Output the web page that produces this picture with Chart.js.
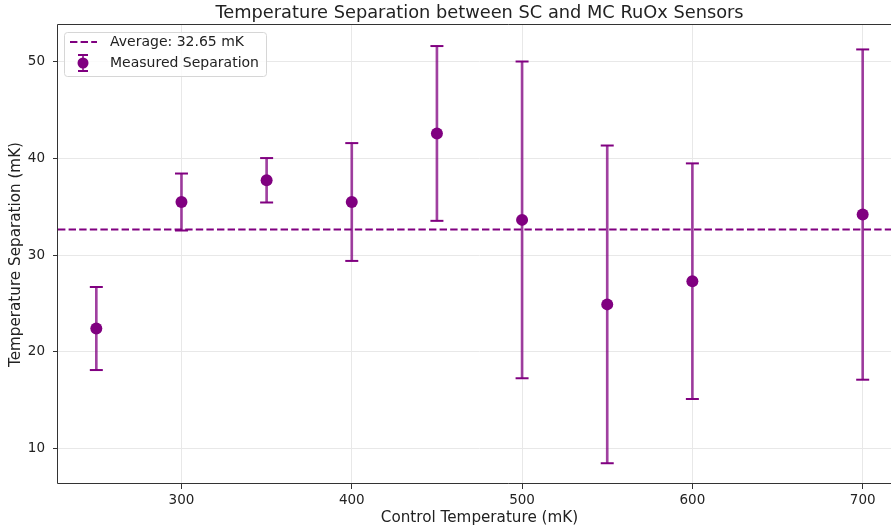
<!DOCTYPE html>
<html>
<head>
<meta charset="utf-8">
<script src="https://cdn.jsdelivr.net/npm/chart.js@4.4.1/dist/chart.umd.min.js"></script>
<style>
  html, body { margin: 0; padding: 0; background: #fff; overflow: hidden; }
  canvas { display: block; }
</style>
</head>
<body>
<canvas id="sepChart" width="960" height="531"></canvas>
<script>
// control temperatures (mK) and measured SC - MC separation (mK)
var temps = [250, 300, 350, 400, 450, 500, 550, 600, 700];
var separation = [22.4, 35.5, 37.75, 35.5, 42.6, 33.65, 24.9, 27.3, 34.2];
var sepError = [4.3, 2.95, 2.3, 6.1, 9.05, 16.4, 16.45, 12.2, 17.1];
var average = 32.65;
var xTicks = [300, 400, 500, 600, 700];
var yTicks = [10, 20, 30, 40, 50];
var xRange = [227.5, 722.5];
var yRange = [6.3, 53.83];

var purple = "#800080";
var barPurple = "rgba(128, 0, 128, 0.75)";
var font = "'DejaVu Sans', 'Liberation Sans', sans-serif";

var bars = temps.map(function (t, i) {
  return { x: t, y: [separation[i] - sepError[i], separation[i] + sepError[i]] };
});
var caps = [];
temps.forEach(function (t, i) {
  caps.push({ x: t, y: separation[i] - sepError[i] });
  caps.push({ x: t, y: separation[i] + sepError[i] });
});
var points = temps.map(function (t, i) {
  return { x: t, y: separation[i] };
});

// matplotlib style frame (left, top, bottom spines), title centred on the axes
var framePlugin = {
  id: "frame",
  afterLayout: function (chart) {
    if (chart.titleBlock) {
      chart.titleBlock.left = chart.chartArea.left;
      chart.titleBlock.right = chart.chartArea.right;
    }
  },
  afterDatasetsDraw: function (chart) {
    var a = chart.chartArea,
      ctx = chart.ctx;
    ctx.save();
    ctx.strokeStyle = "#333";
    ctx.lineWidth = 1;
    ctx.beginPath();
    ctx.moveTo(chart.width, a.top - 0.5);
    ctx.lineTo(a.left - 0.5, a.top - 0.5);
    ctx.lineTo(a.left - 0.5, a.bottom - 0.5);
    ctx.lineTo(chart.width, a.bottom - 0.5);
    ctx.stroke();
    ctx.restore();
  },
};

// legend box in the upper left corner of the axes
var legendPlugin = {
  id: "boxLegend",
  afterDraw: function (chart) {
    var ctx = chart.ctx;
    var x = 64.5, y = 32.5, w = 202, h = 44, r = 3;
    ctx.save();
    ctx.fillStyle = "rgba(255,255,255,0.8)";
    ctx.strokeStyle = "#d6d6d6";
    ctx.lineWidth = 1;
    ctx.beginPath();
    ctx.roundRect(x, y, w, h, r);
    ctx.fill();
    ctx.stroke();

    // dashed line sample
    ctx.strokeStyle = purple;
    ctx.lineWidth = 2;
    ctx.setLineDash([7.4, 3.2]);
    ctx.beginPath();
    ctx.moveTo(70, 42);
    ctx.lineTo(97, 42);
    ctx.stroke();
    ctx.setLineDash([]);

    // errorbar sample
    var cx = 83, cy = 63;
    ctx.strokeStyle = barPurple;
    ctx.beginPath();
    ctx.moveTo(cx, cy - 8);
    ctx.lineTo(cx, cy + 8);
    ctx.stroke();
    ctx.strokeStyle = purple;
    ctx.beginPath();
    ctx.moveTo(cx - 5, cy - 8);
    ctx.lineTo(cx + 5, cy - 8);
    ctx.moveTo(cx - 5, cy + 8);
    ctx.lineTo(cx + 5, cy + 8);
    ctx.stroke();
    ctx.fillStyle = purple;
    ctx.beginPath();
    ctx.arc(cx, cy, 5.5, 0, Math.PI * 2);
    ctx.fill();

    ctx.fillStyle = "#222";
    ctx.font = "14px " + font;
    ctx.textBaseline = "middle";
    ctx.textAlign = "left";
    ctx.fillText("Average: " + average.toFixed(2) + " mK", 110, 42);
    ctx.fillText("Measured Separation", 110, 63);
    ctx.restore();
  },
};

var ctx = document.getElementById("sepChart");
var chart = new Chart(ctx, {
  type: "scatter",
  data: {
    datasets: [
      {
        type: "scatter",
        label: "Measured Separation",
        data: points,
        backgroundColor: purple,
        borderColor: purple,
        borderWidth: 0,
        pointRadius: 6,
        order: 0,
      },
      {
        type: "scatter",
        label: "caps",
        data: caps,
        pointStyle: "line",
        pointRadius: 6.5,
        borderColor: purple,
        borderWidth: 2,
        order: 1,
      },
      {
        type: "bar",
        label: "errors",
        data: bars,
        backgroundColor: barPurple,
        borderWidth: 0,
        barThickness: 2,
        order: 2,
      },
      {
        type: "scatter",
        label: "Average",
        data: [
          { x: xRange[0], y: average },
          { x: xRange[1], y: average },
        ],
        showLine: true,
        borderColor: purple,
        borderWidth: 2,
        borderDash: [7.4, 3.2],
        pointRadius: 0,
        order: 3,
      },
    ],
  },
  options: {
    responsive: false,
    animation: false,
    events: [],
    layout: { padding: { left: 0, right: 59, top: 0, bottom: 0 } },
    plugins: {
      legend: { display: false },
      tooltip: { enabled: false },
      title: {
        display: true,
        text: "Temperature Separation between SC and MC RuOx Sensors",
        color: "#222",
        font: { family: font, size: 17.8, weight: "normal" },
        padding: { top: 2.6, bottom: 1.04 },
      },
    },
    scales: {
      x: {
        type: "linear",
        min: xRange[0],
        max: xRange[1],
        offset: false,
        afterBuildTicks: function (scale) {
          scale.ticks = xTicks.map(function (v) { return { value: v }; });
        },
        afterFit: function (scale) {
          scale.height = 47;
        },
        grid: {
          offset: false,
          color: "#e8e8e8",
          lineWidth: 1,
          tickColor: "#333",
          tickLength: 5,
        },
        border: { display: false },
        ticks: {
          color: "#222",
          padding: 3,
          maxRotation: 0,
          font: { family: font, size: 13.5 },
        },
        title: {
          display: true,
          text: "Control Temperature (mK)",
          color: "#222",
          font: { family: font, size: 15.2 },
          padding: { top: 0, bottom: 4 },
        },
      },
      y: {
        type: "linear",
        min: yRange[0],
        max: yRange[1],
        afterBuildTicks: function (scale) {
          scale.ticks = yTicks.map(function (v) { return { value: v }; });
        },
        afterFit: function (scale) {
          scale.width = 58;
        },
        grid: {
          color: "#e8e8e8",
          lineWidth: 1,
          tickColor: "#333",
          tickLength: 5,
        },
        border: { display: false },
        ticks: {
          color: "#222",
          padding: 8,
          font: { family: font, size: 13.5 },
        },
        title: {
          display: true,
          text: "Temperature Separation (mK)",
          color: "#222",
          font: { family: font, size: 15.2 },
          padding: { top: 7, bottom: 0 },
        },
      },
    },
  },
  plugins: [framePlugin, legendPlugin],
});
</script>
</body>
</html>
